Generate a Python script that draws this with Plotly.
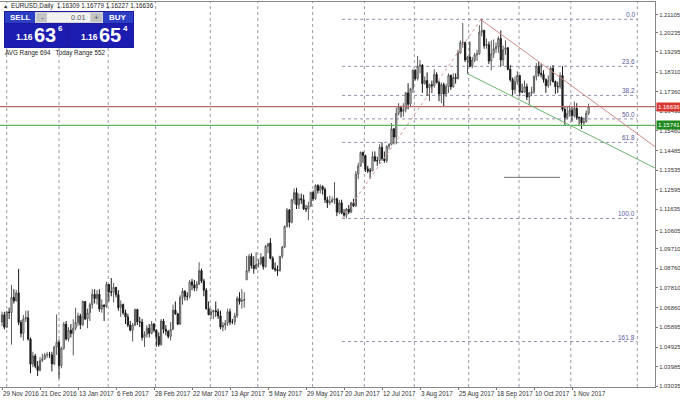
import plotly.graph_objects as go

# ---------------- data (EURUSD daily) ----------------
opens = [1.0615,1.0650,1.0590,1.0664,1.0661,1.0735,1.0718,1.0757,1.0613,1.0560,
         1.0630,1.0636,1.0532,1.0410,1.0450,1.0400,1.0380,1.0428,1.0437,1.0454,
         1.0456,1.0455,1.0411,1.0493,1.0517,1.0403,1.0487,1.0605,1.0532,1.0575,
         1.0560,1.0585,1.0613,1.0645,1.0602,1.0715,1.0630,1.0660,1.0700,1.0750,
         1.0730,1.0750,1.0678,1.0698,1.0690,1.0798,1.0762,1.0760,1.0784,1.0748,
         1.0685,1.0700,1.0660,1.0640,1.0600,1.0575,1.0600,1.0676,1.0615,1.0615,
         1.0540,1.0555,1.0585,1.0560,1.0605,1.0575,1.0545,1.0505,1.0620,1.0580,
         1.0570,1.0545,1.0580,1.0673,1.0655,1.0605,1.0735,1.0765,1.0740,1.0740,
         1.0810,1.0795,1.0780,1.0800,1.0865,1.0815,1.0770,1.0680,1.0650,1.0665,
         1.0670,1.0665,1.0645,1.0590,1.0600,1.0610,1.0665,1.0615,1.0615,1.0645,
         1.0730,1.0715,1.0720,1.0820,1.0865,1.0935,1.0890,1.0875,1.0895,1.0900,
         1.0930,1.0885,1.0985,1.1000,1.0925,1.0875,1.0870,1.0865,1.0935,1.0980,
         1.1080,1.1160,1.1100,1.1210,1.1245,1.1185,1.1215,1.1210,1.1165,1.1165,
         1.1180,1.1245,1.1215,1.1280,1.1255,1.1275,1.1260,1.1210,1.1195,1.1200,
         1.1210,1.1215,1.1150,1.1195,1.1145,1.1135,1.1165,1.1150,1.1195,1.1180,
         1.1335,1.1375,1.1440,1.1425,1.1360,1.1350,1.1350,1.1420,1.1400,1.1400,
         1.1465,1.1410,1.1400,1.1470,1.1480,1.1555,1.1515,1.1630,1.1665,1.1640,
         1.1650,1.1730,1.1675,1.1750,1.1840,1.1800,1.1860,1.1865,1.1775,1.1790,
         1.1755,1.1770,1.1765,1.1820,1.1780,1.1725,1.1770,1.1725,1.1760,1.1815,
         1.1760,1.1805,1.1800,1.1925,1.1975,1.1975,1.1890,1.1905,1.1860,1.1890,
         1.1915,1.1920,1.2025,1.2035,1.1960,1.1965,1.1885,1.1920,1.1945,1.1955,
         1.1995,1.1890,1.1940,1.1950,1.1845,1.1795,1.1745,1.1785,1.1815,1.1735,
         1.1735,1.1760,1.1710,1.1730,1.1735,1.1810,1.1860,1.1825,1.1820,1.1795,
         1.1765,1.1790,1.1850,1.1785,1.1760,1.1760,1.1815,1.1650,1.1610,1.1630,
         1.1645,1.1620,1.1655,1.1610,1.1610,1.1585,1.1590,1.16309]
highs = [1.0665,1.0665,1.0670,1.0685,1.0796,1.0775,1.0770,1.0874,1.0625,1.0650,
         1.0670,1.0670,1.0540,1.0470,1.0460,1.0425,1.0445,1.0460,1.0465,1.0470,
         1.0470,1.0470,1.0500,1.0652,1.0530,1.0495,1.0615,1.0620,1.0590,1.0605,
         1.0628,1.0685,1.0660,1.0655,1.0720,1.0715,1.0680,1.0710,1.0775,1.0775,
         1.0770,1.0775,1.0725,1.0700,1.0810,1.0800,1.0829,1.0805,1.0785,1.0770,
         1.0720,1.0705,1.0675,1.0655,1.0620,1.0610,1.0680,1.0680,1.0640,1.0630,
         1.0570,1.0600,1.0605,1.0620,1.0610,1.0580,1.0565,1.0630,1.0630,1.0600,
         1.0575,1.0615,1.0700,1.0715,1.0660,1.0745,1.0780,1.0770,1.0760,1.0820,
         1.0825,1.0820,1.0815,1.0906,1.0875,1.0825,1.0780,1.0715,1.0680,1.0675,
         1.0715,1.0680,1.0670,1.0615,1.0625,1.0680,1.0680,1.0630,1.0660,1.0740,
         1.0760,1.0775,1.0760,1.0937,1.0945,1.0950,1.0935,1.0955,1.0920,1.0950,
         1.0935,1.0990,1.1000,1.1023,1.0935,1.0905,1.0890,1.0935,1.0985,1.1085,
         1.1170,1.1165,1.1215,1.1265,1.1268,1.1240,1.1240,1.1235,1.1185,1.1200,
         1.1250,1.1255,1.1285,1.1285,1.1285,1.1280,1.1270,1.1225,1.1230,1.1225,
         1.1296,1.1220,1.1210,1.1210,1.1165,1.1170,1.1185,1.1200,1.1215,1.1350,
         1.1390,1.1445,1.1445,1.1430,1.1375,1.1365,1.1445,1.1445,1.1420,1.1480,
         1.1490,1.1445,1.1475,1.1485,1.1583,1.1560,1.1658,1.1680,1.1665,1.1680,
         1.1735,1.1777,1.1755,1.1845,1.1845,1.1910,1.1890,1.1870,1.1810,1.1830,
         1.1775,1.1790,1.1845,1.1830,1.1790,1.1780,1.1780,1.1775,1.1825,1.1820,
         1.1825,1.1825,1.1940,1.1985,1.2070,1.1980,1.1910,1.1980,1.1905,1.1925,
         1.1940,1.2060,1.2092,1.2035,1.1995,1.1980,1.1985,1.1990,1.1975,1.2005,
         1.2034,1.1960,1.1985,1.1950,1.1865,1.1805,1.1810,1.1835,1.1815,1.1775,
         1.1790,1.1775,1.1735,1.1760,1.1815,1.1875,1.1880,1.1870,1.1840,1.1800,
         1.1815,1.1860,1.1865,1.1790,1.1785,1.1830,1.1860,1.1660,1.1665,1.1670,
         1.1665,1.1688,1.1680,1.1615,1.1615,1.1610,1.1645,1.16779]
lows = [1.0595,1.0580,1.0585,1.0630,1.0505,1.0705,1.0715,1.0600,1.0540,1.0525,
        1.0615,1.0525,1.0366,1.0395,1.0390,1.0352,1.0375,1.0420,1.0430,1.0440,
        1.0440,1.0375,1.0405,1.0455,1.0340,1.0390,1.0480,1.0525,1.0520,1.0540,
        1.0453,1.0575,1.0595,1.0580,1.0595,1.0625,1.0585,1.0620,1.0680,1.0705,
        1.0700,1.0665,1.0660,1.0620,1.0685,1.0715,1.0740,1.0710,1.0735,1.0670,
        1.0640,1.0650,1.0605,1.0590,1.0570,1.0520,1.0595,1.0600,1.0590,1.0525,
        1.0494,1.0540,1.0540,1.0555,1.0565,1.0495,1.0495,1.0500,1.0560,1.0550,
        1.0535,1.0525,1.0575,1.0650,1.0600,1.0600,1.0700,1.0720,1.0720,1.0730,
        1.0770,1.0765,1.0765,1.0795,1.0805,1.0740,1.0675,1.0650,1.0630,1.0630,
        1.0640,1.0630,1.0580,1.0570,1.0575,1.0595,1.0600,1.0605,1.0600,1.0635,
        1.0700,1.0680,1.0685,1.0820,1.0855,1.0875,1.0850,1.0870,1.0880,1.0890,
        1.0870,1.0880,1.0950,1.0920,1.0870,1.0860,1.0840,1.0860,1.0925,1.0975,
        1.1075,1.1075,1.1095,1.1190,1.1165,1.1165,1.1190,1.1160,1.1150,1.1110,
        1.1175,1.1205,1.1210,1.1240,1.1240,1.1235,1.1195,1.1170,1.1185,1.1195,
        1.1190,1.1130,1.1140,1.1140,1.1125,1.1119,1.1140,1.1145,1.1175,1.1175,
        1.1310,1.1370,1.1390,1.1345,1.1340,1.1312,1.1350,1.1395,1.1375,1.1385,
        1.1400,1.1390,1.1390,1.1455,1.1475,1.1480,1.1480,1.1620,1.1610,1.1615,
        1.1635,1.1650,1.1665,1.1730,1.1790,1.1790,1.1825,1.1730,1.1770,1.1715,
        1.1690,1.1730,1.1755,1.1775,1.1690,1.1680,1.1662,1.1710,1.1730,1.1745,
        1.1755,1.1775,1.1795,1.1920,1.1950,1.1880,1.1823,1.1855,1.1850,1.1880,
        1.1885,1.1915,1.2005,1.1945,1.1945,1.1870,1.1840,1.1900,1.1925,1.1925,
        1.1860,1.1860,1.1915,1.1840,1.1785,1.1718,1.1725,1.1770,1.1715,1.1730,
        1.1730,1.1695,1.1670,1.1715,1.1725,1.1790,1.1810,1.1805,1.1780,1.1730,
        1.1755,1.1765,1.1780,1.1725,1.1730,1.1750,1.1640,1.1574,1.1600,1.1615,
        1.1590,1.1610,1.1600,1.1575,1.1554,1.1570,1.1585,1.16227]
closes = [1.0650,1.0590,1.0664,1.0661,1.0735,1.0718,1.0757,1.0613,1.0560,1.0630,
          1.0636,1.0532,1.0410,1.0450,1.0400,1.0380,1.0428,1.0437,1.0454,1.0456,
          1.0455,1.0411,1.0493,1.0517,1.0403,1.0487,1.0605,1.0532,1.0575,1.0560,
          1.0585,1.0613,1.0645,1.0602,1.0715,1.0630,1.0660,1.0700,1.0750,1.0730,
          1.0750,1.0678,1.0698,1.0690,1.0798,1.0762,1.0760,1.0784,1.0748,1.0685,
          1.0700,1.0660,1.0640,1.0600,1.0575,1.0600,1.0676,1.0615,1.0615,1.0540,
          1.0555,1.0585,1.0560,1.0605,1.0575,1.0545,1.0505,1.0620,1.0580,1.0570,
          1.0545,1.0580,1.0673,1.0655,1.0605,1.0735,1.0765,1.0740,1.0740,1.0810,
          1.0795,1.0780,1.0800,1.0865,1.0815,1.0770,1.0680,1.0650,1.0665,1.0670,
          1.0665,1.0645,1.0590,1.0600,1.0610,1.0665,1.0615,1.0615,1.0645,1.0730,
          1.0715,1.0720,1.0725,1.0865,1.0935,1.0890,1.0875,1.0895,1.0900,1.0930,
          1.0885,1.0985,1.0995,1.0925,1.0875,1.0870,1.0865,1.0935,1.0980,1.1080,
          1.1160,1.1100,1.1210,1.1245,1.1185,1.1215,1.1210,1.1165,1.1165,1.1180,
          1.1245,1.1215,1.1280,1.1255,1.1275,1.1260,1.1210,1.1195,1.1200,1.1210,
          1.1215,1.1150,1.1195,1.1145,1.1135,1.1165,1.1150,1.1195,1.1180,1.1335,
          1.1375,1.1440,1.1425,1.1360,1.1350,1.1350,1.1420,1.1400,1.1400,1.1465,
          1.1410,1.1400,1.1470,1.1480,1.1555,1.1515,1.1630,1.1665,1.1640,1.1650,
          1.1730,1.1675,1.1750,1.1840,1.1800,1.1860,1.1865,1.1775,1.1790,1.1755,
          1.1770,1.1765,1.1820,1.1780,1.1725,1.1770,1.1725,1.1760,1.1815,1.1760,
          1.1805,1.1800,1.1925,1.1975,1.1975,1.1890,1.1905,1.1860,1.1890,1.1915,
          1.1920,1.2025,1.2035,1.1960,1.1965,1.1885,1.1920,1.1945,1.1955,1.1995,
          1.1890,1.1940,1.1950,1.1845,1.1795,1.1745,1.1785,1.1815,1.1735,1.1735,
          1.1760,1.1710,1.1730,1.1735,1.1810,1.1860,1.1825,1.1820,1.1795,1.1765,
          1.1790,1.1850,1.1785,1.1760,1.1760,1.1815,1.1650,1.1610,1.1630,1.1645,
          1.1620,1.1655,1.1610,1.1610,1.1585,1.1590,1.1631,1.16636]
bar_index = list(range(len(closes)))

date_tick_bars = [0, 16, 32, 48, 64, 80, 96, 112, 128, 144, 160, 176, 192, 208, 224, 240]
date_tick_labels = ["29 Nov 2016", "21 Dec 2016", "13 Jan 2017", "6 Feb 2017", "28 Feb 2017",
                    "22 Mar 2017", "13 Apr 2017", "5 May 2017", "29 May 2017", "20 Jun 2017",
                    "12 Jul 2017", "3 Aug 2017", "25 Aug 2017", "18 Sep 2017", "10 Oct 2017",
                    "1 Nov 2017"]
price_ticks = [1.21105, 1.20235, 1.19295, 1.18310, 1.17360, 1.16430, 1.15460, 1.14485,
               1.13535, 1.12595, 1.11635, 1.10605, 1.09710, 1.08760, 1.07810, 1.06860,
               1.05895, 1.04925, 1.03985, 1.03035]
price_tick_labels = ["1.21105", "1.20235", "1.19295", "1.18310", "1.17360", "1.16430",
                     "1.15460", "1.14485", "1.13535", "1.12595", "1.11635", "1.10605",
                     "1.09710", "1.08760", "1.07810", "1.06860", "1.05895", "1.04925",
                     "1.03985", "1.03035"]

separator_bars = [2, 24, 44.7, 64.7, 87.7, 107.7, 130.8, 152.6, 173.6, 196.5, 217.7, 239.5, 267.5]

fib_levels = [0.0, 23.6, 38.2, 50.0, 61.8, 100.0, 161.8]
fib_level_labels = ["0.0", "23.6", "38.2", "50.0", "61.8", "100.0", "161.8"]
fib_anchor_bars = [143.2, 201.7]
fib_anchor_prices = [1.1119, 1.2088]
fib_end_bar = 267.5

bid_price = 1.16636
bid_label = "1.16636"
green_level = 1.15721
green_label = "1.15741"
red_trend_bars = [201.5, 275.0]
red_trend_prices = [1.2088, 1.1468]
green_trend_bars = [196.0, 275.0]
green_trend_prices = [1.1823, 1.1364]
short_line_bars = [211.4, 235.0]
short_line_price = 1.1319

header_text = "EURUSD,Daily  1.16309 1.16779 1.16227 1.16636"
sell_big, sell_small, sell_sup = "63", "1.16", "6"
buy_big, buy_small, buy_sup = "65", "1.16", "4"
lot_text = "0.01"
range_text = "AVG Range 694   Today Range 552"

# ---------------- figure ----------------
W, H = 680, 400
PL, PR, PT, PB = 0, 655, 2, 387
def PX(x):
    return (x - PL) / (PR - PL)
def PY(y):
    return 1 - (y - PT) / (PB - PT)

fig = go.Figure()
fig.add_trace(go.Candlestick(
    x=bar_index, open=opens, high=highs, low=lows, close=closes,
    increasing=dict(line=dict(color="#5a5a5a", width=1), fillcolor="#ffffff"),
    decreasing=dict(line=dict(color="#1a1a1a", width=1), fillcolor="#1a1a1a"),
    whiskerwidth=0, hoverinfo="skip", showlegend=False))

shapes = []
for b in separator_bars:
    shapes.append(dict(type="line", xref="x", yref="paper", x0=b, x1=b, y0=0, y1=1,
                       line=dict(color="#9a9aa6", width=1, dash="dot"), layer="below"))
f0, f100 = fib_anchor_prices[1], fib_anchor_prices[0]
annotations = []
for lv, lab in zip(fib_levels, fib_level_labels):
    p = f0 - (f0 - f100) * lv / 100.0
    shapes.append(dict(type="line", xref="x", yref="y", x0=fib_anchor_bars[0], x1=fib_end_bar,
                       y0=p, y1=p, line=dict(color="#8e8eae", width=1, dash="dot"), layer="below"))
    annotations.append(dict(xref="x", yref="y", x=fib_end_bar, y=p, text=lab, showarrow=False,
                            xanchor="right", yanchor="bottom", yshift=-1,
                            font=dict(family="Liberation Sans", size=6.5, color="#5a5aa0")))
shapes.append(dict(type="line", xref="x", yref="y", x0=fib_anchor_bars[0], x1=fib_anchor_bars[1],
                   y0=fib_anchor_prices[0], y1=fib_anchor_prices[1],
                   line=dict(color="#d59a9a", width=1, dash="dot")))
shapes.append(dict(type="line", xref="paper", yref="y", x0=0, x1=1, y0=bid_price, y1=bid_price,
                   line=dict(color="#b86a62", width=1.2)))
shapes.append(dict(type="line", xref="paper", yref="y", x0=0, x1=1, y0=green_level, y1=green_level,
                   line=dict(color="#5fb45f", width=1.2)))
shapes.append(dict(type="line", xref="x", yref="y", x0=red_trend_bars[0], x1=red_trend_bars[1],
                   y0=red_trend_prices[0], y1=red_trend_prices[1], line=dict(color="#cf8a8a", width=1)))
shapes.append(dict(type="line", xref="x", yref="y", x0=green_trend_bars[0], x1=green_trend_bars[1],
                   y0=green_trend_prices[0], y1=green_trend_prices[1], line=dict(color="#6cb46c", width=1)))
shapes.append(dict(type="line", xref="x", yref="y", x0=short_line_bars[0], x1=short_line_bars[1],
                   y0=short_line_price, y1=short_line_price, line=dict(color="#707070", width=1)))

annotations.append(dict(xref="paper", yref="y", x=1, y=bid_price, xanchor="left", xshift=1,
                        text=bid_label, showarrow=False, bgcolor="#d8362e", borderpad=1,
                        font=dict(family="Liberation Sans", size=6, color="#ffffff")))
annotations.append(dict(xref="paper", yref="y", x=1, y=green_level, xanchor="left", xshift=1,
                        text=green_label, showarrow=False, bgcolor="#1f8a1f", borderpad=1,
                        font=dict(family="Liberation Sans", size=6, color="#ffffff")))

def rect(x0, y0, x1, y1, color):
    shapes.append(dict(type="rect", xref="paper", yref="paper", x0=PX(x0), x1=PX(x1),
                       y0=PY(y1), y1=PY(y0), fillcolor=color, line=dict(width=0), layer="above"))
rect(4, 11, 134, 48, "#1a1aa0")
rect(5, 12, 35, 23, "#2c3fc4")
rect(35, 12, 103, 23, "#d6d6d6")
rect(37, 13, 47, 22, "#c4c4c4")
rect(47, 13, 90, 22, "#f2f2f2")
rect(91, 13, 102, 22, "#c4c4c4")
rect(103, 12, 133, 23, "#2c3fc4")
rect(5, 24, 67.5, 47, "#1c1cb0")
rect(69, 24, 133, 47, "#1c1cb0")

def txt(x, y, s, size, color="#000000", bold=False, anchor="left"):
    annotations.append(dict(xref="paper", yref="paper", x=PX(x), y=PY(y),
                            text=("<b>%s</b>" % s) if bold else s,
                            showarrow=False, xanchor=anchor, yanchor="middle",
                            font=dict(family="Liberation Sans", size=size, color=color)))

txt(2, 6, "&#9652;", 6, "#333333")
txt(9, 6, header_text, 6.3, "#222222")
txt(20, 17.5, "SELL", 8, "#ffffff", True, "center")
txt(118, 17.5, "BUY", 8, "#ffffff", True, "center")
txt(42, 17.5, "-", 8, "#555555", False, "center")
txt(96.5, 17.5, "+", 8, "#555555", False, "center")
txt(88, 17.5, lot_text, 7.5, "#555555", False, "right")
txt(14, 37, sell_small, 8.5, "#ffffff", True)
txt(32, 35, sell_big, 20, "#ffffff", True)
txt(56, 28, sell_sup, 8, "#ffffff", True)
txt(79, 37, buy_small, 8.5, "#ffffff", True)
txt(97, 35, buy_big, 20, "#ffffff", True)
txt(121, 28, buy_sup, 8, "#ffffff", True)
txt(3, 53.5, range_text, 6.3, "#222222")

ymin = 1.21105 - (PB - 14.7) / 2055.0
ymax = 1.21105 + (14.7 - PT) / 2055.0
xmin = (0 - 2) / 2.375
xmax = (655 - 2) / 2.375

fig.update_layout(
    width=W, height=H, margin=dict(l=PL, r=W - PR, t=PT, b=H - PB, autoexpand=False),
    paper_bgcolor="#ffffff", plot_bgcolor="#ffffff",
    shapes=shapes, annotations=annotations, showlegend=False, hovermode=False,
    xaxis=dict(range=[xmin, xmax], rangeslider=dict(visible=False), showgrid=False, zeroline=False,
               tickmode="array", tickvals=date_tick_bars, ticktext=date_tick_labels,
               ticks="outside", ticklen=2, tickcolor="#777777", ticklabelposition="outside right",
               tickangle=0, automargin=False,
               tickfont=dict(family="Liberation Sans", size=6.3, color="#333333"),
               showline=True, linecolor="#888888", linewidth=1, mirror=True),
    yaxis=dict(range=[ymin, ymax], side="right", showgrid=False, zeroline=False,
               tickmode="array", tickvals=price_ticks, ticktext=price_tick_labels,
               ticks="outside", ticklen=2, tickcolor="#777777", automargin=False,
               ticklabelstandoff=0,
               tickfont=dict(family="Liberation Sans", size=5.9, color="#333333"),
               showline=True, linecolor="#888888", linewidth=1, mirror=True),
)

fig.write_html("out.html", config={"staticPlot": True},
               post_script="document.body.style.margin='0';document.body.style.overflow='hidden';")
